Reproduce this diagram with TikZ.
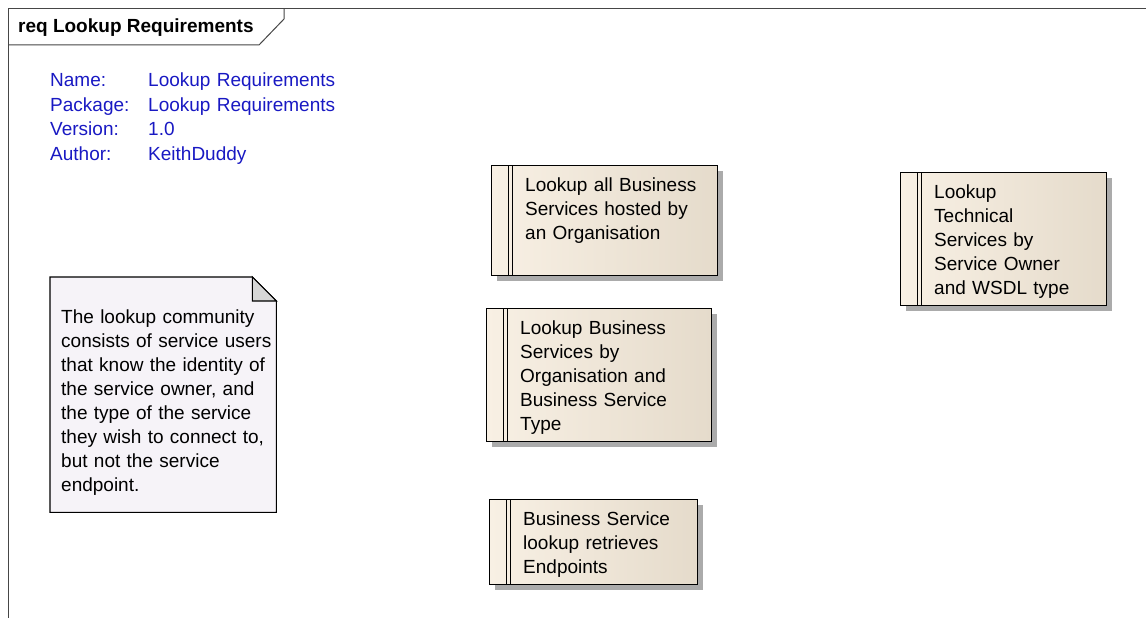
\documentclass[tikz,border=0pt]{standalone}
\usepackage{fontspec}
\setmainfont{Liberation Sans}
\usetikzlibrary{shadows,calc}
\definecolor{boxL}{RGB}{248,240,228}
\definecolor{boxR}{RGB}{229,219,203}
\definecolor{noteC}{RGB}{246,243,248}
\definecolor{foldC}{RGB}{214,214,214}
\definecolor{hdrC}{RGB}{25,25,195}
\definecolor{frameC}{RGB}{70,70,70}
\begin{document}
\begin{tikzpicture}[x=1pt,y=-1pt,
  reqbox/.style={draw=black, line width=1.2pt, left color=boxL, right color=boxR,
    anchor=north west, inner sep=0pt,
    drop shadow={shadow xshift=5pt, shadow yshift=-5pt, fill=black!33, opacity=1},
    path picture={
      \draw[line width=1.2pt] ([xshift=17pt]path picture bounding box.north west) -- ([xshift=17pt]path picture bounding box.south west);
      \draw[line width=1.2pt] ([xshift=21pt]path picture bounding box.north west) -- ([xshift=21pt]path picture bounding box.south west);
    }},
  reqtext/.style={anchor=base west, inner sep=0pt, align=left, text width=#1,
    font=\fontsize{19}{24}\selectfont},
  hdrtext/.style={anchor=base west, inner sep=0pt, align=left, text width=#1,
    font=\fontsize{19}{24.5}\selectfont, text=hdrC}
]
\useasboundingbox (0,0) rectangle (1146,618);
\fill[white] (0,0) rectangle (1146,618);

% frame
\draw[frameC, line width=1pt] (1146,9) -- (8,9) -- (8,618);
\draw[frameC, line width=1pt] (8,45) -- (259,45) -- (284,19) -- (284,9);
\node[anchor=base west, inner sep=0pt, font=\fontsize{19}{22}\selectfont\bfseries] (title) at (18,33) {req Lookup Requirements};

% header info
\node[hdrtext=95] (hlab) at (50,87) {Name:\\Package:\\Version:\\Author:};
\node[hdrtext=230] (hval) at (148,87) {Lookup Requirements\\Lookup Requirements\\1.0\\KeithDuddy};

% requirement boxes
\node[reqbox, minimum width=226, minimum height=110] (b1) at (491,165) {};
\node[reqtext=190] (t1) at ($(b1.north west)+(34,26)$) {Lookup all Business\\Services hosted by\\an Organisation};

\node[reqbox, minimum width=225, minimum height=133] (b2) at (486,308) {};
\node[reqtext=190] (t2) at ($(b2.north west)+(34,26)$) {Lookup Business\\Services by\\Organisation and\\Business Service\\Type};

\node[reqbox, minimum width=206, minimum height=133] (b3) at (900,172) {};
\node[reqtext=170] (t3) at ($(b3.north west)+(34,26)$) {Lookup\\Technical\\Services by\\Service Owner\\and WSDL type};

\node[reqbox, minimum width=208, minimum height=85] (b4) at (489,499) {};
\node[reqtext=170] (t4) at ($(b4.north west)+(34,26)$) {Business Service\\lookup retrieves\\Endpoints};

% note
\node[anchor=north west, minimum width=226, minimum height=235, inner sep=0pt] (note) at (50,277) {};
\draw[line width=1.1pt, fill=noteC] (note.north west) -- ([xshift=-24pt]note.north east) -- ([yshift=-24pt]note.north east) -- (note.south east) -- (note.south west) -- cycle;
\draw[line width=1.1pt, fill=foldC] ([xshift=-24pt]note.north east) -- ([yshift=-24pt]note.north east) -- ([xshift=-24pt,yshift=-24pt]note.north east) -- cycle;
\node[reqtext=215] (nt) at ($(note.north west)+(11,46)$) {The lookup community\\consists of service users\\that know the identity of\\the service owner, and\\the type of the service\\they wish to connect to,\\but not the service\\endpoint.};
\end{tikzpicture}
\end{document}
